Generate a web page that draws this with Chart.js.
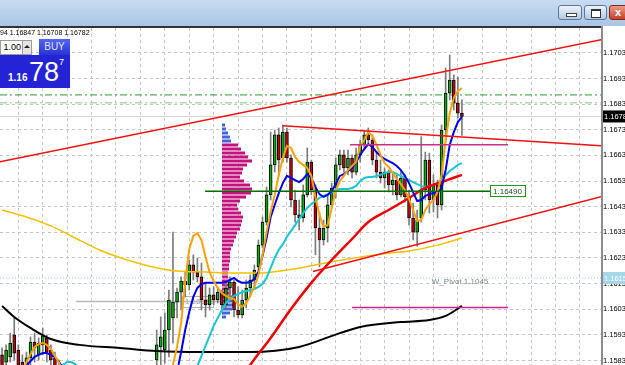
<!DOCTYPE html>
<html>
<head>
<meta charset="utf-8">
<script src="https://cdn.jsdelivr.net/npm/chart.js@4.4.1/dist/chart.umd.min.js"></script>
<style>
  body { margin: 0; width: 625px; height: 365px; overflow: hidden; background: #fff; position: relative; font-family: "Liberation Sans", Arial, sans-serif; }
  #titlebar { position: absolute; left: 0; top: 0; width: 625px; height: 26px; background: linear-gradient(#c8dcf1, #a9c5e5); }
  .wbtn { position: absolute; top: 5px; height: 15px; border: 1px solid #5d7698; border-radius: 3px; background: linear-gradient(#edf3fb, #b5cae4); box-sizing: border-box; }
  #btnMin { left: 558px; width: 24px; }
  #btnMax { left: 584px; width: 23px; }
  #btnClose { left: 609px; width: 24px; background: linear-gradient(#eb9a86, #c8412a); border-color: #7b2b1d; color: #fff; font-size: 11px; font-weight: bold; line-height: 13px; padding-left: 5px; }
  #btnMin i { position: absolute; left: 7px; top: 7px; width: 9px; height: 2px; background: #fff; border: 1px solid #444; }
  #btnMax i { position: absolute; left: 6px; top: 3px; width: 8px; height: 6px; border: 1px solid #333; border-top-width: 2px; background: #fff; }
  #topline { position: absolute; left: 0; top: 26px; width: 603px; height: 2px; background: #333; }
  #chartbox { position: absolute; left: 0; top: 28px; width: 625px; height: 337px; }
  #axisline { position: absolute; left: 601px; top: 26px; width: 2px; height: 339px; background: #8c8c8c; }
  #ohlc { position: absolute; left: 0; top: 29px; font-size: 7px; color: #000; white-space: nowrap; }
  #lot { position: absolute; left: 0; top: 40px; width: 20px; height: 13px; border: 1px solid #9c9c9c; background: #fff; font-size: 9px; line-height: 13px; text-align: right; padding-right: 1px; }
  #lotUp { position: absolute; left: 22px; top: 40px; width: 8px; height: 13px; border: 1px solid #9c9c9c; background: #e4e4e4; }
  #lotUp i { position: absolute; left: 1px; top: 4px; border-left: 3px solid transparent; border-right: 3px solid transparent; border-bottom: 3px solid #222; }
  #buy { position: absolute; left: 39px; top: 39px; width: 31px; height: 16px; background: linear-gradient(#5566f2, #2a33d6); color: #dfe2ff; font-size: 10px; text-align: center; line-height: 16px; }
  #quote { position: absolute; left: 0; top: 55px; width: 70px; height: 33px; background: #2424d6; color: #fff; }
  #quote .a { position: absolute; left: 8px; top: 17px; font-size: 10px; font-weight: bold; }
  #quote .b { position: absolute; left: 29px; top: 2px; font-size: 27px; }
  #quote .c { position: absolute; left: 59px; top: 2px; font-size: 9px; }
</style>
</head>
<body>
<div id="titlebar">
  <div class="wbtn" id="btnMin"><i></i></div>
  <div class="wbtn" id="btnMax"><i></i></div>
  <div class="wbtn" id="btnClose">x</div>
</div>
<div id="topline"></div>
<div id="chartbox"><canvas id="chart" width="625" height="337"></canvas></div>
<div id="axisline"></div>
<div id="ohlc">94 1.16847 1.16708 1.16782</div>
<div id="lot">1.00</div>
<div id="lotUp"><i></i></div>
<div id="buy">BUY</div>
<div id="quote"><span class="a">1.16</span><span class="b">78</span><span class="c">7</span></div>

<script>
const N = null;

// candles, one entry per bar (bars 17-37 sit below the visible price range)
const opens = [
  1.15852,1.15824,1.15844,1.15930,1.15871,1.15824,1.15801,1.15840,1.15902,1.15852,
  1.15891,1.15918,1.15871,1.15840,1.15809,1.15774,1.15785,
  N,N,N,N,N,N,N,N,N,N, N,N,N,N,N,N,N,N,N,N, N,
  1.15832,1.15883,1.15871,1.15949,1.15996,1.16058,1.16097,1.16140,1.16125,1.16203,1.16175,1.16156,
  1.16066,1.16047,1.16086,1.16066,1.16097,1.16047,1.16113,1.16136,1.16027,1.16008,
  1.16066,1.16113,1.16144,1.16195,1.16280,1.16370,1.16476,1.16593,1.16710,1.16620,
  1.16721,1.16620,1.16456,1.16398,1.16386,1.16476,1.16604,1.16495,1.16347,1.16300,
  1.16347,1.16437,1.16503,1.16593,1.16632,1.16581,1.16620,1.16565,1.16632,1.16671,
  1.16710,1.16690,1.16612,1.16565,1.16542,1.16565,1.16515,1.16534,1.16476,1.16542,
  1.16468,1.16386,1.16331,1.16386,1.16495,1.16612,1.16456,1.16515,1.16437,1.16729,
  1.16873,1.16924,1.16834,1.16794
];
const highs = [
  1.15879,1.15891,1.15937,1.15996,1.15891,1.15852,1.15863,1.15922,1.15937,1.15918,
  1.15957,1.15930,1.15891,1.15863,1.15832,1.15816,1.15809,
  N,N,N,N,N,N,N,N,N,N, N,N,N,N,N,N,N,N,N,N, N,
  1.15949,1.16000,1.16015,1.16105,1.16331,1.16113,1.16156,1.16175,1.16222,1.16242,1.16230,1.16210,
  1.16133,1.16113,1.16117,1.16117,1.16105,1.16133,1.16156,1.16144,1.16117,1.16105,
  1.16144,1.16164,1.16203,1.16300,1.16390,1.16507,1.16721,1.16729,1.16737,1.16749,
  1.16737,1.16632,1.16495,1.16456,1.16515,1.16659,1.16612,1.16515,1.16409,1.16378,
  1.16476,1.16522,1.16620,1.16651,1.16651,1.16651,1.16632,1.16659,1.16690,1.16729,
  1.16737,1.16710,1.16643,1.16612,1.16581,1.16573,1.16565,1.16561,1.16573,1.16554,
  1.16495,1.16444,1.16417,1.16703,1.16643,1.16639,1.16554,1.16534,1.16749,1.16971,
  1.17022,1.16944,1.16936,1.16847
];
const lows = [
  1.15785,1.15793,1.15824,1.15832,1.15793,1.15774,1.15774,1.15801,1.15824,1.15832,
  1.15852,1.15824,1.15801,1.15785,1.15762,1.15746,1.15735,
  N,N,N,N,N,N,N,N,N,N, N,N,N,N,N,N,N,N,N,N, N,
  1.15785,1.15801,1.15820,1.15844,1.15898,1.15996,1.16027,1.16078,1.16105,1.16144,1.16136,1.16027,
  1.16000,1.16027,1.16047,1.16054,1.16019,1.16035,1.16066,1.16000,1.15996,1.15996,
  1.16035,1.16078,1.16113,1.16183,1.16269,1.16358,1.16456,1.16565,1.16554,1.16604,
  1.16604,1.16429,1.16370,1.16339,1.16370,1.16468,1.16476,1.16242,1.16195,1.16280,
  1.16292,1.16425,1.16464,1.16573,1.16565,1.16554,1.16542,1.16554,1.16604,1.16651,
  1.16671,1.16593,1.16542,1.16522,1.16503,1.16487,1.16476,1.16456,1.16468,1.16448,
  1.16358,1.16300,1.16276,1.16370,1.16456,1.16405,1.16409,1.16386,1.16417,1.16690,
  1.16846,1.16807,1.16776,1.16708
];
const closes = [
  1.15809,1.15871,1.15898,1.15859,1.15813,1.15793,1.15840,1.15902,1.15879,1.15898,
  1.15926,1.15863,1.15832,1.15801,1.15785,1.15793,1.15754,
  N,N,N,N,N,N,N,N,N,N, N,N,N,N,N,N,N,N,N,N, N,
  1.15891,1.15922,1.15949,1.16066,1.16058,1.16097,1.16140,1.16125,1.16203,1.16175,1.16156,1.16066,
  1.16047,1.16086,1.16066,1.16097,1.16047,1.16113,1.16136,1.16027,1.16008,1.16066,
  1.16113,1.16144,1.16183,1.16280,1.16370,1.16476,1.16593,1.16710,1.16612,1.16721,
  1.16620,1.16456,1.16398,1.16386,1.16476,1.16604,1.16495,1.16347,1.16300,1.16347,
  1.16437,1.16503,1.16593,1.16632,1.16581,1.16620,1.16565,1.16632,1.16671,1.16710,
  1.16690,1.16612,1.16565,1.16542,1.16565,1.16515,1.16534,1.16476,1.16542,1.16468,
  1.16386,1.16331,1.16378,1.16495,1.16612,1.16456,1.16515,1.16437,1.16729,1.16873,
  1.16924,1.16834,1.16795,1.16782
];

// moving averages, one entry per bar
const fastMa = [
  N,N,N,N,
  1.15754,1.15785,1.15824,1.15855,1.15883,1.15894,1.15898,1.15891,1.15875,1.15848,1.15820,1.15785,1.15746,
  N,N,N,N,N,N,N,N,N,N, N,N,N,N,N,N,N,N,N,N, N,N,N,N,
  1.15738,1.15813,1.15883,1.15976,1.16140,1.16265,1.16316,1.16327,1.16300,1.16234,
  1.16175,1.16140,1.16113,1.16093,1.16082,1.16074,1.16070,1.16050,1.16039,1.16054,
  1.16082,1.16117,1.16164,1.16242,1.16331,1.16409,1.16476,1.16554,1.16620,1.16667,
  1.16659,1.16624,1.16604,1.16593,1.16581,1.16550,1.16468,1.16398,1.16351,1.16358,
  1.16425,1.16495,1.16530,1.16550,1.16573,1.16589,1.16604,1.16667,1.16690,1.16721,
  1.16706,1.16671,1.16632,1.16600,1.16585,1.16561,1.16538,1.16518,1.16495,1.16460,
  1.16417,1.16374,1.16378,1.16417,1.16440,1.16456,1.16487,1.16554,1.16690,1.16795,
  1.16854,1.16881,1.16893
];
const midMa = [
  N,N,N,N,
  1.15723,1.15770,1.15809,1.15828,1.15844,1.15852,1.15859,1.15859,1.15852,1.15844,1.15824,1.15801,1.15770,
  N,N,N,N,N,N,N,N,N,N, N,N,N,N,N,N,N,N,N,N, N,N,N,N,N,
  1.15715,1.15785,1.15863,1.15949,1.16019,1.16078,1.16113,1.16128,1.16133,
  1.16133,1.16133,1.16133,1.16133,1.16136,1.16144,1.16152,1.16140,1.16133,1.16133,
  1.16136,1.16148,1.16175,1.16238,1.16308,1.16390,1.16437,1.16483,1.16522,1.16550,
  1.16542,1.16534,1.16526,1.16538,1.16557,1.16542,1.16507,1.16479,1.16468,1.16476,
  1.16491,1.16518,1.16550,1.16557,1.16569,1.16581,1.16604,1.16632,1.16655,1.16674,
  1.16663,1.16643,1.16628,1.16616,1.16608,1.16600,1.16589,1.16573,1.16550,1.16522,
  1.16487,1.16452,1.16456,1.16472,1.16479,1.16483,1.16483,1.16503,1.16573,1.16671,
  1.16721,1.16760,1.16780
];
const slowMa = [
  N,N,N,N,N,N,N,N,N,N, N,N,N,N,
  1.15793,1.15813,1.15824,1.15824,1.15816,1.15801,
  N,N,N,N,N,N,N,N,N,N, N,N,N,N,N,N,N,N,N,N, N,N,N,N,N,N,N,
  1.15754,1.15809,1.15848,1.15887,
  1.15926,1.15965,1.15996,1.16027,1.16054,1.16070,1.16082,1.16089,1.16097,1.16101,
  1.16105,1.16109,1.16117,1.16128,1.16152,1.16191,1.16230,1.16262,1.16284,1.16313,
  1.16335,1.16358,1.16382,1.16405,1.16425,1.16440,1.16452,1.16464,1.16472,1.16479,
  1.16487,1.16495,1.16499,1.16499,1.16499,1.16503,1.16511,1.16530,1.16542,1.16546,
  1.16546,1.16550,1.16554,1.16561,1.16565,1.16565,1.16557,1.16550,1.16542,1.16534,
  1.16526,1.16518,1.16511,1.16507,1.16511,1.16515,1.16522,1.16534,1.16554,1.16569,
  1.16581,1.16593,1.16600
];
// slow averages read at a few bars only
const redMaBars = [58, 61, 66, 71, 76, 81, 86, 90, 95, 100, 104, 108, 113];
const redMa = [1.15735,1.15813,1.15918,1.16031,1.16133,1.16222,1.16304,1.16370,1.16417,1.16464,1.16503,1.16526,1.16554];
const blackMaBars = [0, 3, 7, 12, 19, 29, 38, 49, 61, 73, 83, 88, 98, 105, 109, 113];
const blackMa = [1.16043,1.16000,1.15957,1.15914,1.15891,1.15879,1.15867,1.15863,1.15863,1.15883,1.15937,1.15961,1.15980,1.15988,1.16004,1.16043];
const goldMaBars = [0, 6, 12, 18, 24, 30, 36, 43, 50, 56, 63, 70, 77, 85, 93, 100, 107, 113];
const goldMa = [1.16417,1.16390,1.16355,1.16308,1.16261,1.16226,1.16199,1.16179,1.16175,1.16171,1.16171,1.16183,1.16203,1.16226,1.16245,1.16257,1.16280,1.16308];

// drawn objects: [bar, price] end points
const channelTop = [[-0.5, 1.16605], [147.2, 1.17081]];
const channelBottom = [[76.4, 1.16177], [147.2, 1.16469]];
const resistLine = [[69.0, 1.16746], [147.2, 1.16668]];
const greenLevel = [[49.9, 1.16490], [119.9, 1.16490]];
const pivotHigh = [[85.5, 1.16672], [124.3, 1.16672]];
const pivotLow = [[86.0, 1.16037], [124.3, 1.16037]];
const greyLevel = [[18.2, 1.16060], [54.0, 1.16060]];
const dashLevels = [1.16866, 1.16835];
const bidLevel = 1.16782;
const skyLevel = 1.16152;

// volume profile
const profilePrices = [
  1.16749,1.16733,1.16717,1.16702,1.16686,1.16671,1.16655,1.16639,1.16624,1.16608,
  1.16593,1.16577,1.16561,1.16546,1.16530,1.16515,1.16499,1.16483,1.16468,1.16452,
  1.16437,1.16421,1.16405,1.16390,1.16374,1.16359,1.16343,1.16327,1.16312,1.16296,
  1.16281,1.16265,1.16249,1.16234,1.16218,1.16203,1.16187,1.16171,1.16156,1.16140,
  1.16125,1.16109,1.16093,1.16078,1.16062,1.16047,1.16031,1.16015,1.16000
];
const profileVolumes = [
  3,4,6,8,9,16,19,23,26,30,
  25,21,20,18,22,28,30,29,24,18,
  15,16,19,21,20,19,18,15,14,12,
  11,9,8,8,8,7,7,6,6,7,
  8,9,9,10,10,11,10,8,4
];
const valueArea = [5, 44];

const priceTicks = [1.1583,1.1593,1.1603,1.1613,1.1623,1.1633,1.1643,1.1653,1.1663,1.1673,1.1683,1.1693,1.1703];
const gridBars = [];
for (let b = 4; b < 148; b += 6) gridBars.push(b);

const wicks = [], bodies = [], bodyColors = [];
opens.forEach((o, i) => {
  if (o === null) return;
  wicks.push({x: i, y: [lows[i], highs[i]]});
  bodies.push({x: i, y: [o, closes[i]]});
  bodyColors.push(closes[i] >= o ? '#00b400' : '#cc0000');
});

function perBar(values) {
  return values.map((v, i) => ({x: i, y: v === null ? NaN : v}));
}
function sparse(bars, values) {
  return bars.map((b, k) => ({x: b, y: values[k]}));
}
function pts(list) {
  return list.map(p => ({x: p[0], y: p[1]}));
}
function across(v) {
  return [{x: -0.5, y: v}, {x: 147.2, y: v}];
}
function profileRows(from, to) {
  const out = [];
  for (let k = from; k < to; k++) {
    out.push({x: 0, y: profilePrices[k]}, {x: profileVolumes[k], y: profilePrices[k]}, {x: profileVolumes[k], y: NaN});
  }
  return out;
}

function line(data, color, width, order, extra) {
  return Object.assign({type: 'line', data: data, borderColor: color, borderWidth: width, pointRadius: 0, fill: false, order: order, tension: 0}, extra || {});
}

function tag(ctx, x1, x2, y, stroke, fill, color, text) {
  ctx.save();
  ctx.fillStyle = fill;
  ctx.fillRect(x1, y - 6, x2 - x1, 12);
  ctx.strokeStyle = stroke;
  ctx.lineWidth = 1;
  ctx.strokeRect(Math.round(x1) + 0.5, Math.round(y - 6) + 0.5, Math.round(x2 - x1), 11);
  ctx.fillStyle = color;
  ctx.font = '8px "Liberation Sans"';
  ctx.textBaseline = 'middle';
  ctx.fillText(text, x1 + 3, y + 0.5);
  ctx.restore();
}

const tagsPlugin = {
  id: 'tags',
  beforeDatasetsDraw(chart) {
    const {ctx, scales: {x, y}} = chart;
    tag(ctx, x.getPixelForValue(44.2), x.getPixelForValue(51.8), y.getPixelForValue(greyLevel[0][1]), '#b4b4b4', '#fff', '#a0a0a0', '1.16060');
  },
  afterDatasetsDraw(chart) {
    const {ctx, scales: {x, y}} = chart;
    tag(ctx, x.getPixelForValue(119.9), x.getPixelForValue(128.6), y.getPixelForValue(greenLevel[0][1]), '#1c9c1c', '#fff', '#1d4d1d', '1.16490');
    ctx.save();
    ctx.fillStyle = '#858585';
    ctx.font = '8px "Liberation Sans"';
    ctx.textBaseline = 'middle';
    ctx.fillText('W_Pivot 1.1045', x.getPixelForValue(105.6), y.getPixelForValue(1.16136));
    ctx.restore();
  },
  afterDraw(chart) {
    const {ctx, scales: {y}} = chart;
    const boxes = [[bidLevel, '#000', '#fff'], [skyLevel, '#a6d6ea', '#fff']];
    boxes.forEach(b => {
      const py = y.getPixelForValue(b[0]);
      ctx.fillStyle = b[1];
      ctx.fillRect(603, py - 6, 22, 12);
      ctx.fillStyle = b[2];
      ctx.font = '7.5px "Liberation Sans"';
      ctx.textBaseline = 'middle';
      ctx.fillText(b[0].toFixed(4), 604, py + 0.5);
    });
  }
};

new Chart(document.getElementById('chart'), {
  type: 'bar',
  data: {
    datasets: [
      line(profileRows(0, valueArea[0]), '#4466dd', 3, 30, {xAxisID: 'xv'}),
      line(profileRows(valueArea[0], valueArea[1]), '#c4137f', 3, 30, {xAxisID: 'xv'}),
      line(profileRows(valueArea[1], profilePrices.length), '#4466dd', 3, 30, {xAxisID: 'xv'}),
      line(across(skyLevel), '#8fd0f0', 1, 28, {borderDash: [1, 2]}),
      line(across(bidLevel), '#d4d4d4', 1, 28),
      line(across(dashLevels[0]), '#2e9a2e', 1, 28, {borderDash: [7, 3, 2, 3]}),
      line(across(dashLevels[1]), '#7fd07f', 1, 28, {borderDash: [7, 3, 2, 3]}),
      line(pts(greyLevel), '#b8b8b8', 1.5, 27),
      {type: 'bar', data: wicks, backgroundColor: '#7c7c7c', barThickness: 1, grouped: false, order: 20},
      {type: 'bar', data: bodies, backgroundColor: bodyColors, borderColor: '#000', borderWidth: 1, borderSkipped: false, barThickness: 3, grouped: false, order: 19},
      line(sparse(blackMaBars, blackMa), '#000', 2, 12, {cubicInterpolationMode: 'monotone'}),
      line(sparse(goldMaBars, goldMa), '#f2c200', 1.5, 11, {cubicInterpolationMode: 'monotone'}),
      line(perBar(slowMa), '#18c6d2', 2, 10),
      line(sparse(redMaBars, redMa), '#f00000', 2.5, 9, {cubicInterpolationMode: 'monotone'}),
      line(perBar(midMa), '#0000f0', 2, 8),
      line(perBar(fastMa), '#ffa200', 2, 7),
      line(pts(channelTop), '#f01010', 1.5, 4),
      line(pts(channelBottom), '#f01010', 1.5, 4),
      line(pts(resistLine), '#f01010', 1.5, 4),
      line(pts(greenLevel), '#006c00', 1.5, 3),
      line(pts(pivotHigh), '#c8308c', 1.5, 3),
      line(pts(pivotLow), '#d0208c', 1.5, 3)
    ]
  },
  options: {
    responsive: false,
    animation: false,
    devicePixelRatio: 1,
    layout: { padding: 0 },
    plugins: { legend: { display: false }, tooltip: { enabled: false } },
    scales: {
      x: {
        type: 'linear', min: -0.5, max: 147.17, offset: false,
        ticks: { display: false },
        grid: { color: '#c6c6c6', drawTicks: false, offset: false },
        border: { display: false, dash: [3, 3] },
        afterBuildTicks: s => { s.ticks = gridBars.map(v => ({value: v})); },
        afterFit: s => { s.height = 0; s.paddingLeft = 0; s.paddingRight = 0; }
      },
      xv: { type: 'linear', display: false, min: -222, max: 379, offset: false },
      y: {
        position: 'right', min: 1.158125, max: 1.17127,
        ticks: { color: '#000', font: { family: 'Liberation Sans', size: 7.5 }, padding: 0, callback: v => v.toFixed(4) },
        grid: { color: '#c6c6c6', tickLength: 2, tickColor: '#000', tickWidth: 1, tickBorderDash: [] },
        border: { display: false, dash: [3, 3] },
        afterBuildTicks: s => { s.ticks = priceTicks.map(v => ({value: v})); },
        afterFit: s => { s.width = 24; s.paddingTop = 0; s.paddingBottom = 0; }
      }
    }
  },
  plugins: [tagsPlugin]
});
</script>
</body>
</html>
